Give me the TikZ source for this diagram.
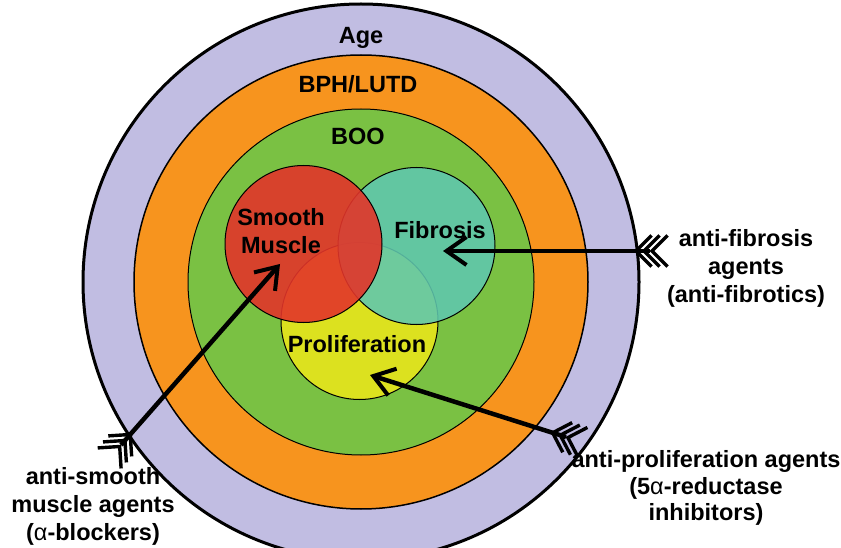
\documentclass[tikz,border=0pt]{standalone}
\usepackage{fontspec}
\setmainfont{Liberation Sans}
\usetikzlibrary{arrows.meta,calc}
\definecolor{agec}{HTML}{C1BDE2}
\definecolor{bphc}{HTML}{F7941E}
\definecolor{booc}{HTML}{7AC143}
\definecolor{smc}{HTML}{E2352A}
\definecolor{fibc}{HTML}{5FC7AF}
\definecolor{proc}{HTML}{DCE11F}
\newcommand\fletching[2]{%
  \foreach \s in {-2,6,14}{%
    \path ($(#1)!\s pt!(#2)$) coordinate (fv);
    \draw[fletch] ($(fv)!22pt!135:(#2)$) -- (fv) -- ($(fv)!22pt!-135:(#2)$);
  }}
\begin{document}
\begin{tikzpicture}[x=1pt,y=-1pt,
  ring/.style={circle,draw=black,inner sep=0pt,outer sep=0pt},
  venn/.style={circle,draw=black,line width=1pt,inner sep=0pt,outer sep=0pt,minimum size=157pt},
  lbl/.style={font=\fontsize{23.5}{28}\selectfont\bfseries,align=center,inner sep=0pt},
  agentarrow/.style={line width=4.5pt,-{Straight Barb[length=20pt,width=28pt,line width=4pt]}},
  fletch/.style={line width=3.4pt,line cap=butt}]
\clip (0,0) rectangle (841,548);
% rings
\node[ring,fill=agec,line width=3pt,minimum size=556pt] (age) at (361,282) {};
\node[ring,fill=bphc,line width=1.5pt,minimum size=454pt] (bph) at (361,282) {};
\node[ring,fill=booc,line width=1pt,minimum size=346pt] (boo) at (361,282) {};
% venn circles
\node[venn,fill=proc] (pro) at (359.5,321) {};
\node[venn,fill=fibc,fill opacity=0.88] (fib) at (416.5,246) {};
\node[venn,fill=smc,fill opacity=0.9] (sm) at (303.5,244) {};
% texts
\node[lbl] (tage) at (361,38) {Age};
\node[lbl] (tbph) at (358,84) {BPH/LUTD};
\node[lbl] (tboo) at (358,136) {BOO};
\node[lbl] (tsm) at (281,231) {Smooth\\Muscle};
\node[lbl] (tfib) at (440,230) {Fibrosis};
\node[lbl] (tpro) at (357,344) {Proliferation};
\node[lbl] (afib) at (746,268) {anti-fibrosis\\agents\\(anti-fibrotics)};
\node[lbl,font=\fontsize{23.5}{26.5}\selectfont\bfseries] (apro) at (706,488) {anti-proliferation agents\\(5{\mdseries α}-reductase\\inhibitors)};
\node[lbl] (asm) at (93,506) {anti-smooth\\muscle agents\\({\mdseries α}-blockers)};
% arrows
\coordinate (t1) at (121,445);
\coordinate (h1) at (280,264);
\coordinate (t2) at (650,251);
\coordinate (h2) at (443,251);
\coordinate (t3) at (566,437);
\coordinate (h3) at (370,375);
\draw[agentarrow] (t1) -- (h1);
\draw[agentarrow] (t2) -- (h2);
\draw[agentarrow] (t3) -- (h3);
\fletching{t1}{h1}
\fletching{t2}{h2}
\fletching{t3}{h3}
\end{tikzpicture}
\end{document}
